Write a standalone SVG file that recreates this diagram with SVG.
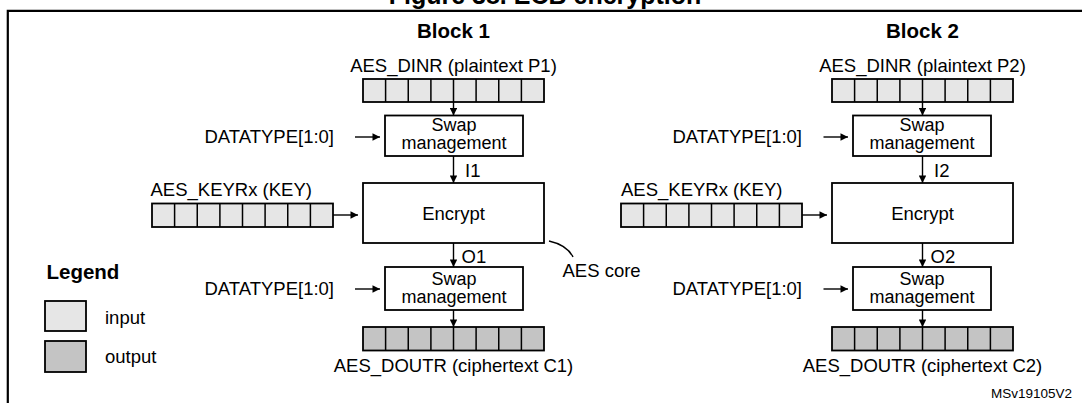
<svg xmlns="http://www.w3.org/2000/svg" width="1082" height="403" viewBox="0 0 1082 403">
<defs>
<style>
text{font-family:"Liberation Sans",Arial,sans-serif;fill:#000}
.t{font-size:18.5px}
.tm{font-size:18.5px;text-anchor:middle}
.sw{font-size:18px;text-anchor:middle}
.te{font-size:18.5px;text-anchor:end}
.b{font-size:20.5px;font-weight:bold}
.bm{font-size:20.5px;font-weight:bold;text-anchor:middle}
.box{fill:#fff;stroke:#000;stroke-width:1.8}
.in{fill:#e6e6e6;stroke:#000;stroke-width:1.8}
.out{fill:#c4c4c4;stroke:#000;stroke-width:1.8}
.div{fill:none;stroke:#000;stroke-width:1.5}
.ln{fill:none;stroke:#000;stroke-width:1.4}
.frame{fill:none;stroke:#000;stroke-width:2.2}
</style>
<marker id="ah" viewBox="0 0 10 10" refX="10" refY="5" markerWidth="8.5" markerHeight="7.5" markerUnits="userSpaceOnUse" orient="auto">
<path d="M0,0 L10,5 L0,10 Z" fill="#000"/>
</marker>
</defs>

<text x="545" y="4" style="font-size:25px;font-weight:bold;text-anchor:middle">Figure 38. ECB encryption</text>
<path class="frame" d="M7.8,403 V10.8 H1082"/>

<g id="block1-title"><text class="bm" x="453.5" y="38">Block 1</text></g>
<g id="block2-title"><text class="bm" x="922.5" y="38">Block 2</text></g>

<!-- Block 1 -->
<g id="dinr1">
<text class="tm" x="453.5" y="72">AES_DINR (plaintext P1)</text>
<rect class="in" x="363" y="79" width="181" height="23"/>
<path class="div" d="M385.6,79V102M408.25,79V102M430.9,79V102M453.5,79V102M476.1,79V102M498.75,79V102M521.4,79V102"/>
</g>
<g id="datatype1a"><text class="te" x="334" y="143">DATATYPE[1:0]</text></g>
<g id="swap1a">
<rect class="box" x="385" y="115.5" width="138" height="40.5"/>
<text class="sw" x="454" y="130.5">Swap</text>
<text class="sw" x="454" y="149">management</text>
</g>
<g id="keyr1">
<text class="t" x="150.5" y="196">AES_KEYRx (KEY)</text>
<rect class="in" x="152" y="203.5" width="181" height="23.5"/>
<path class="div" d="M174.6,203.5V227M197.25,203.5V227M219.9,203.5V227M242.5,203.5V227M265.1,203.5V227M287.75,203.5V227M310.4,203.5V227"/>
</g>
<g id="encrypt1">
<rect class="box" x="363" y="183" width="181" height="60"/>
<text class="tm" x="453.5" y="220">Encrypt</text>
</g>
<g id="aescore">
<path class="ln" d="M549,241 Q567,245 573,257"/>
<text class="t" x="562.5" y="277">AES core</text>
</g>
<g id="datatype1b"><text class="te" x="334" y="295">DATATYPE[1:0]</text></g>
<g id="swap1b">
<rect class="box" x="385" y="267" width="138" height="43"/>
<text class="sw" x="454" y="284.5">Swap</text>
<text class="sw" x="454" y="303">management</text>
</g>
<g id="doutr1">
<rect class="out" x="363" y="327" width="181" height="23.5"/>
<path class="div" d="M385.6,327V350.5M408.25,327V350.5M430.9,327V350.5M453.5,327V350.5M476.1,327V350.5M498.75,327V350.5M521.4,327V350.5"/>
<text class="tm" x="453.5" y="372">AES_DOUTR (ciphertext C1)</text>
</g>

<!-- Block 2 -->
<g id="dinr2">
<text class="tm" x="922.5" y="72">AES_DINR (plaintext P2)</text>
<rect class="in" x="832" y="79" width="181" height="23"/>
<path class="div" d="M854.6,79V102M877.25,79V102M899.9,79V102M922.5,79V102M945.1,79V102M967.75,79V102M990.4,79V102"/>
</g>
<g id="datatype2a"><text class="te" x="802" y="143">DATATYPE[1:0]</text></g>
<g id="swap2a">
<rect class="box" x="853" y="115.5" width="138" height="40.5"/>
<text class="sw" x="922" y="130.5">Swap</text>
<text class="sw" x="922" y="149">management</text>
</g>
<g id="keyr2">
<text class="t" x="621" y="196">AES_KEYRx (KEY)</text>
<rect class="in" x="621" y="203.5" width="181" height="23.5"/>
<path class="div" d="M643.6,203.5V227M666.25,203.5V227M688.9,203.5V227M711.5,203.5V227M734.1,203.5V227M756.75,203.5V227M779.4,203.5V227"/>
</g>
<g id="encrypt2">
<rect class="box" x="832" y="183" width="181" height="60"/>
<text class="tm" x="922.5" y="220">Encrypt</text>
</g>
<g id="datatype2b"><text class="te" x="802" y="295">DATATYPE[1:0]</text></g>
<g id="swap2b">
<rect class="box" x="853" y="267" width="138" height="43"/>
<text class="sw" x="922" y="284.5">Swap</text>
<text class="sw" x="922" y="303">management</text>
</g>
<g id="doutr2">
<rect class="out" x="832" y="327" width="181" height="23.5"/>
<path class="div" d="M854.6,327V350.5M877.25,327V350.5M899.9,327V350.5M922.5,327V350.5M945.1,327V350.5M967.75,327V350.5M990.4,327V350.5"/>
<text class="tm" x="922.5" y="372">AES_DOUTR (ciphertext C2)</text>
</g>

<!-- Legend -->
<g id="legend">
<text class="b" x="46.5" y="279">Legend</text>
<rect class="in" x="45" y="301" width="41" height="30"/>
<text class="t" x="105" y="324">input</text>
<rect class="out" x="45" y="341" width="41" height="31"/>
<text class="t" x="105" y="363">output</text>
</g>

<g id="connectors">
<line class="ln" x1="453.5" y1="102" x2="453.5" y2="115.5" marker-end="url(#ah)"/>
<line class="ln" x1="453.5" y1="156" x2="453.5" y2="183" marker-end="url(#ah)"/>
<line class="ln" x1="453.5" y1="243" x2="453.5" y2="267" marker-end="url(#ah)"/>
<line class="ln" x1="453.5" y1="310" x2="453.5" y2="327" marker-end="url(#ah)"/>
<line class="ln" x1="355" y1="137" x2="380" y2="137" marker-end="url(#ah)"/>
<line class="ln" x1="355" y1="289" x2="380" y2="289" marker-end="url(#ah)"/>
<line class="ln" x1="333" y1="215" x2="358" y2="215" marker-end="url(#ah)"/>
<text class="t" x="465" y="176.5">I1</text>
<text class="t" x="461.5" y="263">O1</text>

<line class="ln" x1="922.5" y1="102" x2="922.5" y2="115.5" marker-end="url(#ah)"/>
<line class="ln" x1="922.5" y1="156" x2="922.5" y2="183" marker-end="url(#ah)"/>
<line class="ln" x1="922.5" y1="243" x2="922.5" y2="267" marker-end="url(#ah)"/>
<line class="ln" x1="922.5" y1="310" x2="922.5" y2="327" marker-end="url(#ah)"/>
<line class="ln" x1="823.5" y1="137" x2="848" y2="137" marker-end="url(#ah)"/>
<line class="ln" x1="823.5" y1="289" x2="848" y2="289" marker-end="url(#ah)"/>
<line class="ln" x1="802" y1="215" x2="827" y2="215" marker-end="url(#ah)"/>
<text class="t" x="934" y="176.5">I2</text>
<text class="t" x="930.5" y="263">O2</text>
</g>

<text x="1072" y="398" style="font-size:13.5px;text-anchor:end">MSv19105V2</text>
</svg>
